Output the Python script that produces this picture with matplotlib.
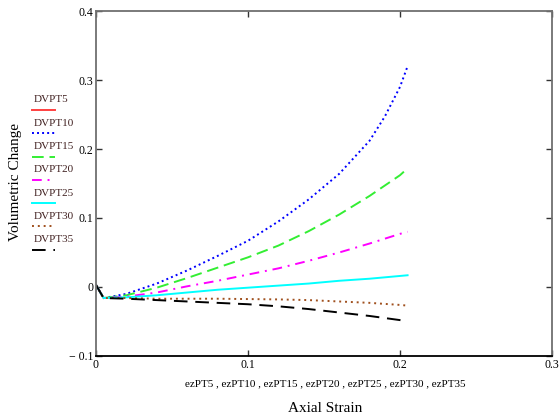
import matplotlib
matplotlib.use("Agg")
import matplotlib.pyplot as plt
from matplotlib.lines import Line2D

plt.rcParams["font.family"] = ["Liberation Serif", "DejaVu Serif"]

# axial strain samples
strain = [0.0, 0.005, 0.02, 0.04, 0.06, 0.08, 0.10, 0.12, 0.14, 0.16, 0.18, 0.19, 0.20, 0.205]

dvpt5 = [0.003, -0.016]
dvpt10 = [0.003, -0.016, -0.010, 0.005, 0.024, 0.045, 0.067, 0.095, 0.127, 0.164, 0.212, 0.247, 0.290, 0.320]
dvpt15 = [0.003, -0.016, -0.012, -0.001, 0.013, 0.028, 0.043, 0.060, 0.081, 0.105, 0.132, 0.147, 0.162, 0.172]
dvpt20 = [0.003, -0.016, -0.014, -0.008, 0.001, 0.009, 0.018, 0.027, 0.038, 0.050, 0.063, 0.070, 0.077, 0.080]
dvpt25 = [0.003, -0.016, -0.015, -0.012, -0.008, -0.004, -0.001, 0.002, 0.005, 0.009, 0.012, 0.014, 0.016, 0.017]
dvpt30 = [0.003, -0.016, -0.016, -0.017, -0.017, -0.017, -0.0175, -0.018, -0.019, -0.021, -0.023, -0.0245, -0.026, -0.027]
dvpt35 = [0.003, -0.016, -0.017, -0.019, -0.021, -0.023, -0.025, -0.028, -0.032, -0.037, -0.042, -0.045, -0.048, -0.050]

names = ["DVPT5", "DVPT10", "DVPT15", "DVPT20", "DVPT25", "DVPT30", "DVPT35"]
series = [dvpt5, dvpt10, dvpt15, dvpt20, dvpt25, dvpt30, dvpt35]
colors = ["#ff4040", "#0000ff", "#33ee33", "#ff00ff", "#00ffff", "#a0501e", "#000000"]
styles = [
    "-",
    (0, (1, 1.6)),
    (0, (6, 3)),
    (0, (5, 3, 1, 3)),
    "-",
    (0, (1, 2)),
    (0, (7, 4)),
]

yticks = [-0.1, 0.0, 0.1, 0.2, 0.3, 0.4]
ytick_labels = ["\u2212 0.1", "0", "0.1", "0.2", "0.3", "0.4"]
xticks = [0.0, 0.1, 0.2, 0.3]
xtick_labels = ["0", "0.1", "0.2", "0.3"]

fig = plt.figure(figsize=(5.6, 4.19), dpi=100)
ax = fig.add_axes([0.1714, 0.1504, 0.8143, 0.8233])

for name, ys, c, ls in zip(names, series, colors, styles):
    ax.plot(strain[: len(ys)], ys, color=c, linestyle=ls, linewidth=1.4)

ax.set_xlim(0, 0.3)
ax.set_ylim(-0.1, 0.4)
ax.set_xticks(xticks)
ax.set_xticklabels(xtick_labels)
ax.set_yticks(yticks)
ax.set_yticklabels(ytick_labels)
ax.tick_params(direction="in", length=4, width=1, top=True, right=True,
               labelsize=8.5, colors="#333333", labelcolor="black", pad=2)

for side in ["left", "right", "top"]:
    ax.spines[side].set_color("#707070")
    ax.spines[side].set_linewidth(1.3)
ax.spines["bottom"].set_color("black")
ax.spines["bottom"].set_linewidth(1.3)

fig.text(0.58, 1 - 384 / 419,
         "ezPT5 , ezPT10 , ezPT15 , ezPT20 , ezPT25 , ezPT30 , ezPT35",
         ha="center", va="center", fontsize=8)
fig.text(0.58, 1 - 408 / 419, "Axial Strain", ha="center", va="center", fontsize=11)
fig.text(0.027, 1 - 182 / 419, "Volumetric Change", rotation=90,
         ha="center", va="center", fontsize=11)

# legend: label above a short line sample
for i, (name, c, ls) in enumerate(zip(names, colors, styles)):
    ty = 100 + i * 23.3
    fig.text(34 / 560, 1 - ty / 419, name, ha="left", va="center",
             fontsize=8, color="#402020")
    ly = 1 - (ty + 10) / 419
    fig.add_artist(Line2D([32 / 560, 55 / 560], [ly, ly], color=c,
                          linestyle=ls, linewidth=1.4,
                          transform=fig.transFigure))

fig.savefig("out.png", dpi=100)
